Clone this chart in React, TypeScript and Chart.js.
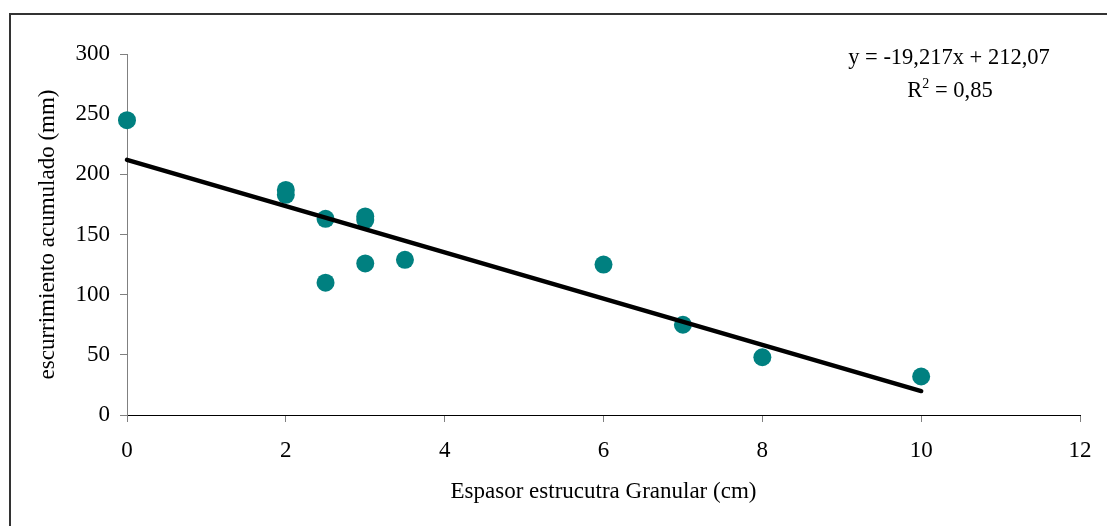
import React, { useEffect, useRef } from "react";
import { Chart, registerables } from "chart.js";

Chart.register(...registerables);

const espesorCm = [0, 2, 2, 2.5, 2.5, 3, 3, 3, 3.5, 6, 7, 8, 10];
const escurrimientoMm = [245, 187, 183, 163, 110, 165, 162, 126, 129, 125, 75, 48, 32];
const trendX = [0, 10];
const trendY = [212.07, 19.9];
const xTicks = [0, 2, 4, 6, 8, 10, 12];
const yTicks = [0, 50, 100, 150, 200, 250, 300];
const equationText = "y = -19,217x + 212,07";
const r2Value = "0,85";
const xTitle = "Espasor estrucutra Granular (cm)";
const yTitle = "escurrimiento acumulado (mm)";

const FONT = "'Liberation Serif', 'Times New Roman', serif";

const framePlugin = {
  id: "frameAndEquation",
  beforeDraw(chart: any) {
    const ctx = chart.ctx;
    ctx.save();
    ctx.fillStyle = "#ffffff";
    ctx.fillRect(0, 0, chart.width, chart.height);
    ctx.strokeStyle = "#333333";
    ctx.lineWidth = 2;
    ctx.strokeRect(10, 14, chart.width + 20, chart.height + 20);
    ctx.restore();
  },
  afterDraw(chart: any) {
    const ctx = chart.ctx;
    ctx.save();
    ctx.fillStyle = "#000000";
    ctx.textBaseline = "alphabetic";
    ctx.font = `22.5px ${FONT}`;
    ctx.textAlign = "center";
    ctx.fillText(equationText, 949, 64);
    const big = `22.5px ${FONT}`;
    const small = `14px ${FONT}`;
    ctx.textAlign = "left";
    ctx.font = big;
    const wR = ctx.measureText("R").width;
    const rest = " = " + r2Value;
    const wRest = ctx.measureText(rest).width;
    ctx.font = small;
    const w2 = ctx.measureText("2").width;
    const total = wR + w2 + wRest;
    let x = 950 - total / 2;
    const base = 97;
    ctx.font = big;
    ctx.fillText("R", x, base);
    x += wR;
    ctx.font = small;
    ctx.fillText("2", x, base - 9);
    x += w2;
    ctx.font = big;
    ctx.fillText(rest, x, base);
    ctx.restore();
  },
};

export default function App() {
  const canvasRef = useRef<HTMLCanvasElement | null>(null);

  useEffect(() => {
    if (!canvasRef.current) return;
    const points = espesorCm.map((x, i) => ({ x, y: escurrimientoMm[i] }));
    const trend = trendX.map((x, i) => ({ x, y: trendY[i] }));
    const chart = new Chart(canvasRef.current, {
      type: "scatter",
      data: {
        datasets: [
          {
            type: "line",
            label: "Tendencia",
            data: trend,
            borderColor: "#000000",
            borderWidth: 4.5,
            borderCapStyle: "round",
            pointRadius: 0,
            fill: false,
            clip: false,
            order: 0,
          } as any,
          {
            label: "Datos",
            data: points,
            backgroundColor: "#008080",
            borderColor: "#008080",
            borderWidth: 0,
            pointRadius: 9,
            pointHoverRadius: 9,
            clip: false,
            order: 1,
          } as any,
        ],
      },
      options: {
        responsive: false,
        animation: false,
        events: [],
        layout: { padding: { top: 54, right: 27, left: 0, bottom: 0 } },
        plugins: {
          legend: { display: false },
          tooltip: { enabled: false },
          title: { display: false },
        },
        scales: {
          x: {
            type: "linear",
            min: 0,
            max: 12,
            afterFit: (s: any) => {
              s.height = 111;
            },
            afterBuildTicks: (s: any) => {
              s.ticks = xTicks.map((v) => ({ value: v }));
            },
            ticks: {
              color: "#000000",
              font: { family: FONT, size: 23 },
              padding: 15,
              maxRotation: 0,
              autoSkip: false,
            },
            grid: {
              display: true,
              drawOnChartArea: false,
              drawTicks: true,
              tickLength: 7,
              color: "#808080",
            },
            border: { display: true, color: "#000000", width: 1 },
            title: {
              display: true,
              text: xTitle,
              color: "#000000",
              font: { family: FONT, size: 23 },
              padding: { top: 0, bottom: 20 },
            },
          },
          y: {
            type: "linear",
            min: 0,
            max: 300,
            afterFit: (s: any) => {
              s.width = 127;
            },
            afterBuildTicks: (s: any) => {
              s.ticks = yTicks.map((v) => ({ value: v }));
            },
            ticks: {
              color: "#000000",
              font: { family: FONT, size: 23 },
              padding: 10,
              autoSkip: false,
            },
            grid: {
              display: true,
              drawOnChartArea: false,
              drawTicks: true,
              tickLength: 7,
              color: "#808080",
            },
            border: { display: true, color: "#808080", width: 1 },
            title: {
              display: true,
              text: yTitle,
              color: "#000000",
              font: { family: FONT, size: 23 },
              padding: { top: 34, bottom: 0 },
            },
          },
        },
      },
      plugins: [framePlugin],
    });
    return () => chart.destroy();
  }, []);

  return (
    <div style={{ position: "fixed", left: 0, top: 0, width: 1107, height: 526, background: "#fff" }}>
      <canvas ref={canvasRef} width={1107} height={526} style={{ display: "block" }} />
    </div>
  );
}
